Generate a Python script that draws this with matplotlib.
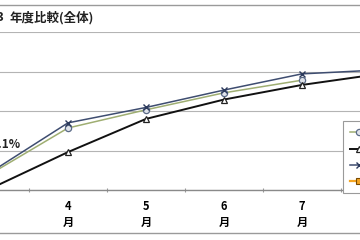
import numpy as np
import matplotlib
matplotlib.use('Agg')
import matplotlib.pyplot as plt
from matplotlib.lines import Line2D

plt.rcParams['font.family'] = ['Noto Sans CJK JP', 'DejaVu Sans']

# monthly cumulative comparison
MONTHS = ['3', '4', '5', '6', '7', '8']
SHOWN = ['4', '5', '6', '7']  # months whose labels fall inside the crop
SERIES_X = [4.4, 17.0, 20.9, 25.3, 29.4, 30.4]
SERIES_O = [4.0, 15.7, 20.3, 24.6, 27.8, np.nan]
SERIES_TRI = [0.3, 9.6, 18.0, 22.9, 26.6, 29.4]
SERIES_SQ = [np.nan] * 6
LABELS = ['25年度', '24年度', '23年度', '目標']
NOTE_TEXT = '3.1%'
NOTE_POS = (0.40, 11.4)

W, H = 360, 240
fig = plt.figure(figsize=(W / 100, H / 100), dpi=100, facecolor='white')

# axes runs past the left/right edge of the crop
x_left_px, x_right_px = -49, 419
y_bot_px, y_top_px = 190, 32
ax = fig.add_axes([x_left_px / W, (H - y_bot_px) / H,
                   (x_right_px - x_left_px) / W, (y_bot_px - y_top_px) / H])

x = np.arange(len(MONTHS))
ax.plot(x, SERIES_O, color='#9fae72', lw=1.1, marker='o', ms=4.5,
        mfc='#dfe3ea', mec='#5a6a86', mew=0.9, label=LABELS[0], zorder=3)
ax.plot(x, SERIES_TRI, color='#111111', lw=1.4, marker='^', ms=5,
        mfc='white', mec='#222222', mew=0.9, label=LABELS[1], zorder=3)
ax.plot(x, SERIES_X, color='#3e4d70', lw=1.1, marker='x', ms=5,
        mec='#2c3a5c', mew=1.0, label=LABELS[2], zorder=4)
ax.plot(x, SERIES_SQ, color='#f5a623', lw=1.6, marker='s', ms=5,
        mfc='#f5a623', mec='#7a4a00', mew=0.8, label=LABELS[3], zorder=3)

ax.text(NOTE_POS[0], NOTE_POS[1], NOTE_TEXT, ha='right', va='center',
        fontsize=8.5, color='#222222', fontweight='bold')

ax.set_xlim(-0.5, 5.5)
ax.set_ylim(0, 40)
ax.set_yticks([0, 10, 20, 30, 40])
ax.yaxis.grid(True, color='#b4b4b4', lw=0.8)
ax.set_axisbelow(True)
ax.tick_params(axis='y', left=False, labelleft=False)

ax.set_xticks(np.arange(-0.5, 6, 1))
ax.set_xticklabels([])
ax.tick_params(axis='x', which='major', direction='inout', length=3,
               color='#999999', width=0.8)
ax.set_xticks(x, minor=True)
ax.set_xticklabels([m + '\n月' if m in SHOWN else '' for m in MONTHS], minor=True,
                   fontsize=8, fontweight='bold', linespacing=1.3)
ax.tick_params(axis='x', which='minor', length=0, pad=7)

for s in ['top', 'right', 'left']:
    ax.spines[s].set_visible(False)
ax.spines['bottom'].set_color('#8a8a8a')
ax.spines['bottom'].set_linewidth(1.0)

leg = ax.legend(loc='upper left', bbox_to_anchor=(338 / W, (H - 116) / H),
                bbox_transform=fig.transFigure, fontsize=7, frameon=True,
                fancybox=False, edgecolor='#9a9a9a', borderpad=0.7,
                handlelength=2.0, labelspacing=0.65, framealpha=1)
leg.get_frame().set_linewidth(0.8)

# title strip
fig.text(4 / W, 1 - 18 / H, '図3', ha='right', va='center', fontsize=9,
         fontweight='bold', color='#222222')
fig.text(10 / W, 1 - 18 / H, '年度比較(全体)', ha='left', va='center',
         fontsize=9, fontweight='bold', color='#222222')
for ypx, col in [(5, '#9a9a9a'), (233, '#9a9a9a')]:
    fig.add_artist(Line2D([0, 1], [1 - ypx / H, 1 - ypx / H],
                          color=col, lw=1.0, transform=fig.transFigure))

fig.savefig('out.png', dpi=100)
